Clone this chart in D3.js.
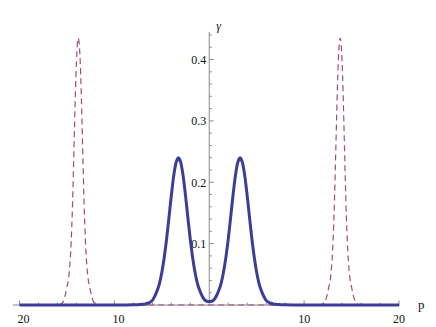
<!DOCTYPE html>
<html>
<head>
<meta charset="utf-8">
<script src="https://cdn.jsdelivr.net/npm/d3@7"></script>
<style>
  html, body { margin: 0; padding: 0; background: #fff; }
  svg { display: block; }
</style>
</head>
<body>
<svg id="chart" width="436" height="327" font-family="'Liberation Serif', 'Times New Roman', Times, 'DejaVu Serif', serif"></svg>
<script>
// ---- data ----
const blueX = [-20,-10,-9,-8,-7.75,-7.5,-7.25,-7,-6.75,-6.5,-6.25,-6,-5.75,-5.5,-5.25,-5,-4.75,-4.5,-4.25,-4,-3.75,-3.5,-3.25,-3,-2.75,-2.5,-2.25,-2,-1.75,-1.5,-1.25,-1,-0.75,-0.5,-0.25,0,0.25,0.5,0.75,1,1.25,1.5,1.75,2,2.25,2.5,2.75,3,3.25,3.5,3.75,4,4.25,4.5,4.75,5,5.25,5.5,5.75,6,6.25,6.5,6.75,7,7.25,7.5,7.75,8,9,10,20];
const blueY = [0,0,0.0001,0.00025,0.0004,0.0006,0.0007,0.0011,0.0017,0.0028,0.0045,0.0075,0.014,0.023,0.035,0.053,0.077,0.107,0.142,0.178,0.210,0.232,0.240,0.232,0.210,0.178,0.142,0.107,0.0772,0.0533,0.0354,0.0236,0.0147,0.0086,0.0062,0.0056,0.0062,0.0086,0.0147,0.0236,0.0354,0.0533,0.0772,0.107,0.142,0.178,0.210,0.232,0.240,0.232,0.210,0.178,0.142,0.107,0.077,0.053,0.035,0.023,0.014,0.0075,0.0045,0.0028,0.0017,0.0011,0.0007,0.0006,0.0004,0.00025,0.0001,0,0];

const dashX = [-20,-16.0,-15.8,-15.6,-15.4,-15.2,-15.0,-14.8,-14.7,-14.6,-14.5,-14.4,-14.3,-14.2,-14.1,-14.0,-13.9,-13.8,-13.7,-13.6,-13.5,-13.4,-13.3,-13.2,-13.1,-13.0,-12.9,-12.8,-12.6,-12.4,-12.2,-12.0,-11.8,-11.6,
               11.6,11.8,12.0,12.2,12.4,12.6,12.8,12.9,13.0,13.1,13.2,13.3,13.4,13.5,13.6,13.7,13.8,13.9,14.0,14.1,14.2,14.3,14.4,14.5,14.6,14.7,14.8,15.0,15.2,15.4,15.6,15.8,16.0,20];
const dashY = [0,0,0.0005,0.002,0.0055,0.015,0.029,0.047,0.064,0.088,0.124,0.170,0.230,0.290,0.350,0.396,0.425,0.435,0.425,0.396,0.350,0.290,0.230,0.170,0.124,0.088,0.064,0.047,0.029,0.015,0.0055,0.002,0.0005,0,
               0,0.0005,0.002,0.0055,0.015,0.029,0.047,0.064,0.088,0.124,0.170,0.230,0.290,0.350,0.396,0.425,0.435,0.425,0.396,0.350,0.290,0.230,0.170,0.124,0.088,0.064,0.047,0.029,0.015,0.0055,0.002,0.0005,0,0];

const xTickValues = [-20, -10, 10, 20];
const xTickLabels = ["20", "10", "10", "20"];
const xMinorTicks = [-18,-16,-14,-12,-8,-6,-4,-2,2,4,6,8,12,14,16,18];
const yTickValues = [0.1, 0.2, 0.3, 0.4];
const yTickLabels = ["0.1", "0.2", "0.3", "0.4"];
const yMinorTicks = [0.02,0.04,0.06,0.08,0.12,0.14,0.16,0.18,0.22,0.24,0.26,0.28,0.32,0.34,0.36,0.38,0.42,0.44];
const xAxisLabel = "p";
const yAxisLabel = "γ";

// ---- scales ----
const svg = d3.select("#chart");
const x = d3.scaleLinear().domain([-20, 20]).range([19.5, 399]);
const y = d3.scaleLinear().domain([0, 0.4]).range([305, 59.5]);
const axisColor = "#8a8a8a";
const textColor = "#111";

// ---- axes ----
const gx = svg.append("g");
gx.append("line").attr("x1", x(-20.7)).attr("x2", x(20.1))
  .attr("y1", y(0)).attr("y2", y(0)).attr("stroke", axisColor).attr("stroke-width", 1);
gx.selectAll("line.maj").data(xTickValues).join("line").attr("class","maj")
  .attr("x1", d => x(d)).attr("x2", d => x(d))
  .attr("y1", y(0)).attr("y2", y(0) - 4.5).attr("stroke", axisColor);
gx.selectAll("line.min").data(xMinorTicks).join("line").attr("class","min")
  .attr("x1", d => x(d)).attr("x2", d => x(d))
  .attr("y1", y(0)).attr("y2", y(0) - 2.5).attr("stroke", axisColor);
gx.selectAll("text").data(xTickValues).join("text")
  .attr("x", d => x(d) + (d < 0 ? 4 : 0)).attr("y", y(0) + 18)
  .attr("text-anchor", "middle").attr("font-size", 12).attr("fill", textColor)
  .text((d, i) => xTickLabels[i]);
gx.append("text").attr("x", 418).attr("y", 309).attr("font-size", 13)
  .attr("fill", textColor).text(xAxisLabel);

const gy = svg.append("g");
gy.append("line").attr("x1", x(0)).attr("x2", x(0))
  .attr("y1", y(0)).attr("y2", y(0.445)).attr("stroke", axisColor).attr("stroke-width", 1);
gy.selectAll("line.maj").data(yTickValues).join("line").attr("class","maj")
  .attr("x1", x(0)).attr("x2", x(0) + 4.5)
  .attr("y1", d => y(d)).attr("y2", d => y(d)).attr("stroke", axisColor);
gy.selectAll("line.min").data(yMinorTicks).join("line").attr("class","min")
  .attr("x1", x(0)).attr("x2", x(0) + 2.5)
  .attr("y1", d => y(d)).attr("y2", d => y(d)).attr("stroke", axisColor);
gy.selectAll("text").data(yTickValues).join("text")
  .attr("x", x(0) - 3).attr("y", d => y(d) + 4.5)
  .attr("text-anchor", "end").attr("font-size", 12).attr("fill", textColor)
  .text((d, i) => yTickLabels[i]);
gy.append("text").attr("x", x(0) + 7).attr("y", 30).attr("font-size", 12)
  .attr("font-style", "italic").attr("fill", textColor).text(yAxisLabel);

// ---- curves ----
const line = d3.line().x(d => x(d[0])).y(d => y(d[1])).curve(d3.curveMonotoneX);

svg.append("path").datum(dashX.map((v, i) => [v, dashY[i]]))
  .attr("d", line).attr("fill", "none")
  .attr("stroke", "#a24a7e").attr("stroke-width", 1.2)
  .attr("stroke-dasharray", "6,4");

svg.append("path").datum(blueX.map((v, i) => [v, blueY[i]]))
  .attr("d", line).attr("fill", "none")
  .attr("stroke", "#3d3d99").attr("stroke-width", 3)
  .attr("stroke-linejoin", "round");
</script>
</body>
</html>
